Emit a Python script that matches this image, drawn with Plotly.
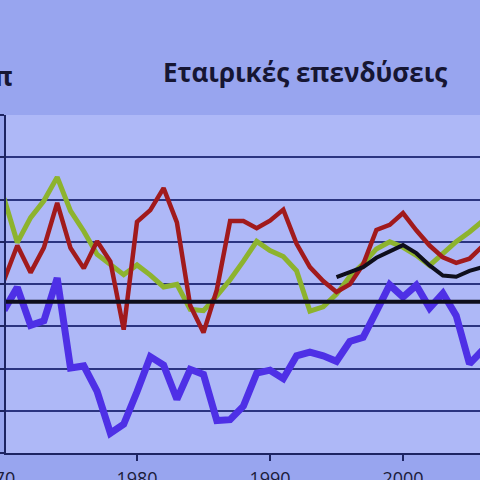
import plotly.graph_objects as go

years = list(range(1970, 2007))

# πράσινη σειρά
green = [6.03, 4.98, 5.57, 5.97, 6.53, 5.73, 5.25, 4.70, 4.46, 4.22,
         4.45, 4.21, 3.93, 3.99, 3.40, 3.37, 3.72, 4.10, 4.54, 5.01,
         4.79, 4.65, 4.31, 3.36, 3.46, 3.76, 4.18, 4.48, 4.83, 5.00,
         4.87, 4.68, 4.44, 4.72, 5.00, 5.23, 5.49]
# κόκκινη σειρά
red = [4.09, 4.91, 4.27, 4.86, 5.92, 4.85, 4.37, 5.01, 4.53, 2.92,
       5.47, 5.75, 6.27, 5.46, 3.49, 2.85, 3.86, 5.49, 5.49, 5.32,
       5.50, 5.76, 4.95, 4.40, 4.07, 3.81, 3.99, 4.46, 5.28, 5.40,
       5.68, 5.27, 4.91, 4.63, 4.50, 4.60, 4.90]
# μπλε σειρά
blue = [3.38, 3.92, 3.02, 3.13, 4.14, 2.01, 2.06, 1.46, 0.47, 0.68,
        1.45, 2.28, 2.08, 1.27, 1.98, 1.86, 0.77, 0.79, 1.11, 1.89,
        1.96, 1.76, 2.30, 2.39, 2.30, 2.17, 2.64, 2.74, 3.35, 3.98,
        3.69, 3.97, 3.43, 3.78, 3.25, 2.11, 2.44]
# μαύρη σειρά (από 1995)
black = [None] * 25 + [4.16, 4.27, 4.40, 4.62, 4.78, 4.92, 4.73, 4.44,
                       4.20, 4.17, 4.31, 4.40]
mean_level = 3.58

tick_years = [1980, 1990, 2000]

fig = go.Figure()
fig.add_trace(go.Scatter(x=years, y=blue, mode='lines',
                         line=dict(color='#4e30e6', width=7)))
fig.add_trace(go.Scatter(x=years, y=green, mode='lines',
                         line=dict(color='#8db32e', width=5)))
fig.add_trace(go.Scatter(x=years, y=red, mode='lines',
                         line=dict(color='#a11a1c', width=4.5)))
fig.add_trace(go.Scatter(x=years, y=black, mode='lines',
                         line=dict(color='#0e0e1c', width=4)))
fig.add_hline(y=mean_level, line_color='#0e0e1c', line_width=4)

fig.add_annotation(text='Εταιρικές επενδύσεις', xref='paper', yref='paper',
                   x=0.631, y=1.127, yanchor='middle', showarrow=False,
                   font=dict(family='Open Sans', size=26, color='#161633', weight='bold'))
fig.add_annotation(text='επ', xref='paper', yref='paper',
                   x=0.019, y=1.115, xanchor='right', yanchor='middle', showarrow=False,
                   font=dict(family='Open Sans', size=26, color='#161633', weight='bold'))
fig.add_annotation(text='1970', xref='paper', yref='paper', x=0.023, y=0,
                   xanchor='right', yanchor='top', yshift=-11, showarrow=False,
                   font=dict(family='Open Sans', size=18, color='#1b1b3a'))

fig.update_layout(
    width=480, height=480,
    margin=dict(l=6, r=0, t=115, b=27),
    paper_bgcolor='#98a5ef', plot_bgcolor='#aeb8f7',
    showlegend=False,
    xaxis=dict(range=[1970.15, 2005.79], tickvals=tick_years, automargin=False,
               ticks='outside', ticklen=6, tickcolor='#1d2462', tickwidth=2,
               ticklabelstandoff=2,
               showline=True, linecolor='#1d2462', linewidth=2,
               showgrid=False, zeroline=False,
               tickfont=dict(family='Open Sans', size=18, color='#1b1b3a')),
    yaxis=dict(range=[0, 8], dtick=1, showticklabels=False, automargin=False,
               ticks='outside', ticklen=6, tickcolor='#1d2462', tickwidth=2,
               showline=True, linecolor='#1d2462', linewidth=2,
               showgrid=True, gridcolor='#2b3480', gridwidth=1.5,
               zeroline=False),
)

fig.write_html("out.html", config={'displayModeBar': False},
               post_script="document.body.style.margin='0';")
